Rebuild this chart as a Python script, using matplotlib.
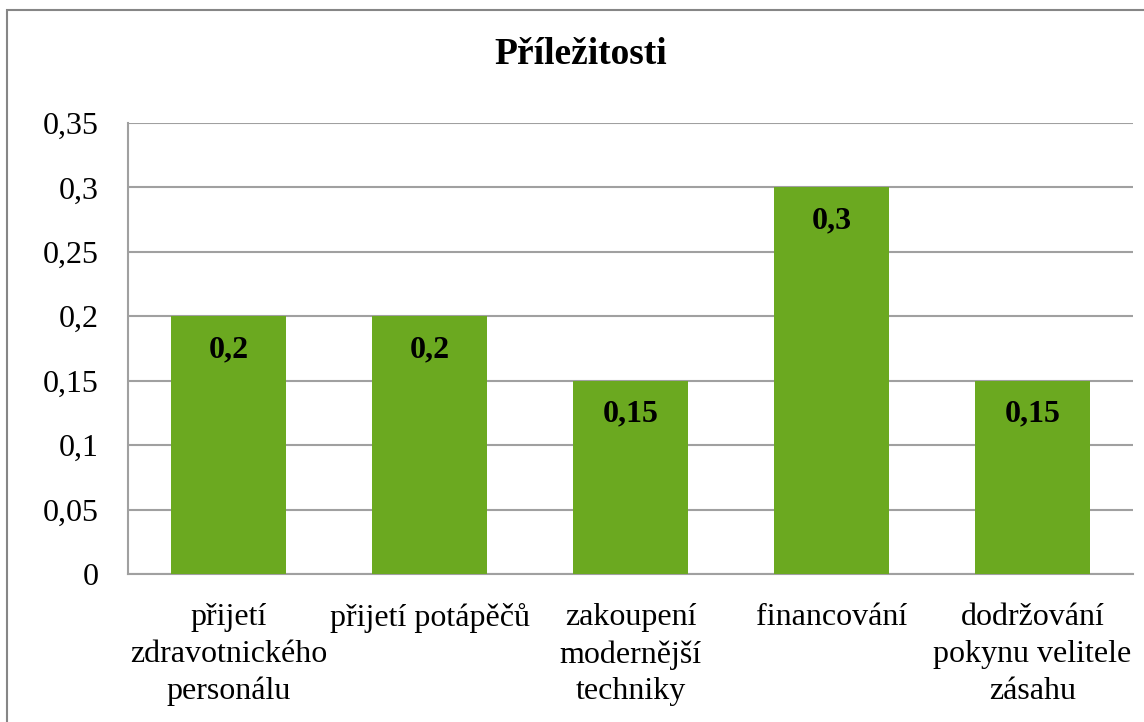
import matplotlib
matplotlib.use("Agg")
import matplotlib.pyplot as plt
from matplotlib.patches import Rectangle
from matplotlib.ticker import FuncFormatter, MultipleLocator

TITLE = "Příležitosti"
CATEGORIES = ["přijetí\nzdravotnického\npersonálu",
              "přijetí potápěčů",
              "zakoupení\nmodernější\ntechniky",
              "financování",
              "dodržování\npokynu velitele\nzásahu"]
VALUES = [0.2, 0.2, 0.15, 0.3, 0.15]
VALUE_LABELS = ["0,2", "0,2", "0,15", "0,3", "0,15"]

GREEN = "#6BA920"
GRID = "#A0A0A0"

plt.rcParams["font.family"] = ["Liberation Serif", "DejaVu Serif"]

fig = plt.figure(figsize=(11.44, 7.22), dpi=100)
# outer chart border (runs off the right/bottom edge as in the source)
fig.patches.append(Rectangle((0.0061, -0.05), 1.2, 0.986 + 0.05,
                             transform=fig.transFigure, fill=False,
                             edgecolor="#868686", lw=1.5))

ax = fig.add_axes([0.1119, 0.205, 0.8785, 0.6247])
x = range(len(VALUES))
bars = ax.bar(x, VALUES, width=0.57, color=GREEN, zorder=3)

for xi, v, lab in zip(x, VALUES, VALUE_LABELS):
    ax.annotate(lab, (xi, v), xytext=(0, -24), textcoords="offset points",
                ha="center", va="center", fontsize=23, fontweight="bold",
                zorder=4)

ax.set_xlim(-0.5, len(VALUES) - 0.5)
ax.set_ylim(0, 0.35)
ax.yaxis.set_major_locator(MultipleLocator(0.05))
ax.yaxis.set_major_formatter(
    FuncFormatter(lambda v, p: f"{round(v, 2):g}".replace(".", ",")))
ax.set_xticks(list(x))
ax.set_xticklabels(CATEGORIES, fontsize=23, linespacing=1.35)
ax.tick_params(axis="x", length=0, pad=21)
ax.tick_params(axis="y", length=0, pad=21, labelsize=23)

ax.grid(axis="y", color=GRID, lw=1.5, zorder=0)
for s in ["top", "right"]:
    ax.spines[s].set_visible(False)
for s in ["left", "bottom"]:
    ax.spines[s].set_color(GRID)
    ax.spines[s].set_linewidth(1.5)

fig.text(0.508, 0.924, TITLE, ha="center", va="center", fontsize=27,
         fontweight="bold")

fig.savefig("out.png", dpi=100)
